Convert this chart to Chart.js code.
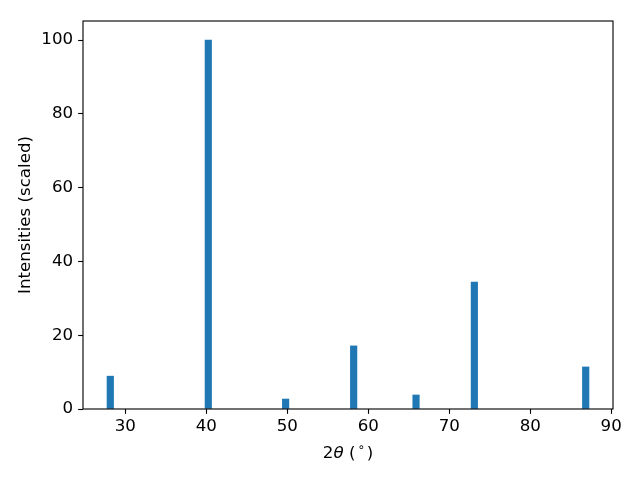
<!DOCTYPE html>
<html>
<head>
<meta charset="utf-8">
<script src="https://cdn.jsdelivr.net/npm/chart.js@4/dist/chart.umd.min.js"></script>
<style>
html,body{margin:0;padding:0;background:#fff;}
#wrap{width:640px;height:480px;position:relative;}
</style>
</head>
<body>
<div id="wrap"><canvas id="c" width="640" height="480"></canvas></div>
<script>
const twoTheta = [28.15, 40.25, 49.8, 58.2, 65.9, 73.1, 86.85];
const intensity = [8.9, 100, 2.7, 17.1, 3.8, 34.4, 11.4];
const xTicks = [30, 40, 50, 60, 70, 80, 90];
const yTicks = [0, 20, 40, 60, 80, 100];
const xLabelParts = [
  {t: '2', style: 'normal', sup: false},
  {t: 'θ', style: 'italic', sup: false},
  {t: ' (', style: 'normal', sup: false},
  {t: '\u2218', style: 'normal', sup: true},
  {t: ')', style: 'normal', sup: false}
];
const yLabel = 'Intensities (scaled)';

const FS = 16.67;
const FONT = {family: 'DejaVu Sans', size: FS};
const points = twoTheta.map((x, i) => ({x: x, y: intensity[i]}));

const boxPlugin = {
  id: 'box',
  afterDraw(chart) {
    const a = chart.chartArea, ctx = chart.ctx;
    ctx.save();
    ctx.strokeStyle = '#000';
    ctx.lineWidth = 1.11;
    ctx.strokeRect(a.left, a.top, a.right - a.left, a.bottom - a.top);
    // x axis title with italic theta and superscript degree
    const parts = xLabelParts.map(p => {
      const size = p.sup ? FS * 0.7 : FS;
      const font = (p.style === 'italic' ? 'italic ' : '') + size + 'px "DejaVu Sans"';
      ctx.font = font;
      let w = ctx.measureText(p.t).width;
      return {p, font, w: w + (p.sup ? 4 : 0)};
    });
    const total = parts.reduce((s, q) => s + q.w, 0);
    let x = (a.left + a.right) / 2 - total / 2;
    const baseY = 458;
    ctx.fillStyle = '#000';
    ctx.textBaseline = 'alphabetic';
    ctx.textAlign = 'left';
    parts.forEach(q => {
      ctx.font = q.font;
      ctx.fillText(q.p.t, x + (q.p.sup ? 2 : 0), q.p.sup ? baseY - 7 : baseY);
      x += q.w;
    });
    ctx.restore();
  }
};

new Chart(document.getElementById('c'), {
  type: 'bar',
  data: {
    datasets: [{
      data: points,
      backgroundColor: '#1f77b4',
      borderWidth: 0,
      barThickness: 6.5
    }]
  },
  options: {
    responsive: false,
    animation: false,
    layout: {padding: {top: 21, right: 27, left: 0, bottom: 0}},
    plugins: {legend: {display: false}, tooltip: {enabled: false}},
    scales: {
      x: {
        type: 'linear',
        offset: false,
        min: 24.78,
        max: 90.22,
        afterBuildTicks: s => { s.ticks = xTicks.map(v => ({value: v})); },
        afterFit: s => { s.height = 71; },
        grid: {display: true, offset: false, drawOnChartArea: false, drawTicks: true, tickLength: 4.86, color: '#000', tickWidth: 1.11},
        border: {display: false},
        ticks: {color: '#000', font: FONT, padding: 3, maxRotation: 0, autoSkip: false},
        title: {display: false}
      },
      y: {
        type: 'linear',
        min: 0,
        max: 105.15,
        afterBuildTicks: s => { s.ticks = yTicks.map(v => ({value: v})); },
        afterFit: s => { s.width = 83; },
        grid: {display: true, drawOnChartArea: false, drawTicks: true, tickLength: 4.86, color: '#000', tickWidth: 1.11},
        border: {display: false},
        ticks: {color: '#000', font: FONT, padding: 5, autoSkip: false},
        title: {display: true, text: yLabel, color: '#000', font: FONT, padding: {top: 16, bottom: 0}}
      }
    }
  },
  plugins: [boxPlugin]
});
</script>
</body>
</html>
